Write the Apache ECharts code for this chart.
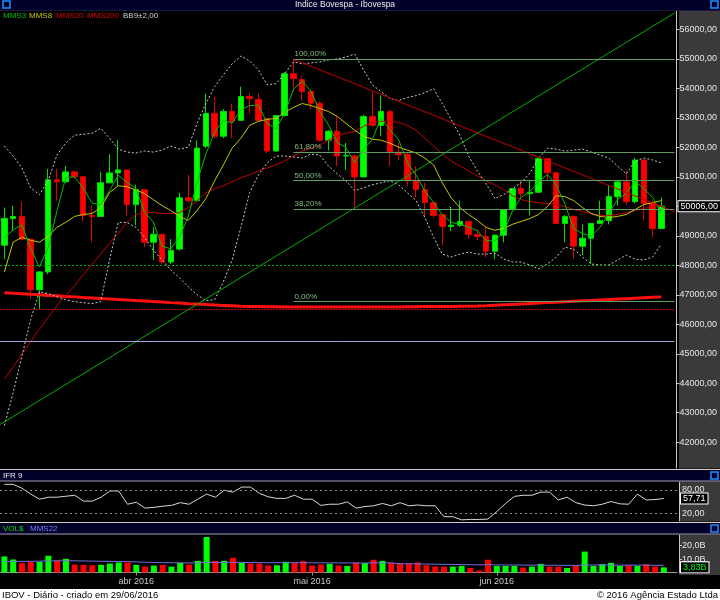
<!DOCTYPE html>
<html>
<head>
<meta charset="utf-8">
<title>Indice Bovespa - Ibovespa</title>
<script src="https://cdn.jsdelivr.net/npm/echarts@6/dist/echarts.min.js"></script>
<style>
html, body { margin: 0; padding: 0; background: #000; }
#chart { width: 720px; height: 600px; }
</style>
</head>
<body>
<div id="chart"></div>
<script>
// pregões de 10/03/2016 a 28/06/2016
var dates = ['10/03','11/03','14/03','15/03','16/03','17/03','18/03','21/03','22/03','23/03','24/03','28/03','29/03','30/03','31/03',
  '01/04','04/04','05/04','06/04','07/04','08/04','11/04','12/04','13/04','14/04','15/04','18/04','19/04','20/04','22/04','25/04','26/04','27/04','28/04','29/04',
  '02/05','03/05','04/05','05/05','06/05','09/05','10/05','11/05','12/05','13/05','16/05','17/05','18/05','19/05','20/05','23/05','24/05','25/05','27/05','30/05','31/05',
  '01/06','02/06','03/06','06/06','07/06','08/06','09/06','10/06','13/06','14/06','15/06','16/06','17/06','20/06','21/06','22/06','23/06','24/06','27/06','28/06'];
var monthNames = {'04': 'abr 2016', '05': 'mai 2016', '06': 'jun 2016'};

var opens = [48683,49590,49658,48885,47171,47776,50901,50834,51170,51002,
  49691,49658,50800,51136,51237,50061,50565,48784,49053,48112,
  48550,50290,50195,52043,53152,52379,53219,52917,53723,53622,
  52980,51880,53080,54500,54300,53900,53500,52245,52550,51710,
  51710,51000,53050,52750,53220,51840,51770,50870,50570,50130,
  49720,49320,49360,49490,49050,48980,48480,49020,49890,50600,
  50430,50480,51620,51140,49420,49660,48650,48920,49420,49520,
  50330,50830,50160,51570,50130,49250];
var highs = [49960,50027,50162,48900,47800,51270,51270,51371,51200,51010,
  50027,51170,51774,52245,51240,50733,50570,49288,49060,48890,
  50460,51070,52245,53824,53723,53300,53488,54059,53824,53824,
  53000,53100,54550,54990,54400,53950,53550,52580,53050,52150,
  51750,53100,53890,53760,53250,52150,51800,51370,50800,50130,
  49730,49990,50200,49500,49220,49290,49050,49900,50620,50900,
  50900,51650,51640,51150,49700,49700,49390,49420,50190,50730,
  50870,51200,51650,51600,50200,50300];
var lows = [48213,49187,48850,46870,46530,47700,50195,50800,50950,49490,
  48784,49640,50780,50700,49691,49355,48616,48179,48050,48050,
  48500,50130,50150,51980,52312,52312,52312,52900,53152,52900,
  51800,51850,53050,53890,53590,53300,52200,51900,51370,51240,
  49960,50980,52700,52380,51370,51570,50700,50300,49620,49620,
  48680,49160,49300,48890,48850,48280,48210,48780,49860,50300,
  49690,50450,50900,49400,48780,48210,48350,48050,49420,49390,
  50030,50060,50100,49520,48950,49250];
var closes = [49590,49658,48885,47171,47776,50901,50834,51170,51002,49691,
  49658,50800,51136,51237,50061,50565,48784,49053,48112,48510,
  50290,50190,51976,53152,52379,53219,52883,53723,53656,52917,
  51880,53080,54500,54330,53900,53500,52245,52550,51710,51730,
  51000,53050,52750,53220,51840,51750,50870,50570,50130,49690,
  49320,49360,49490,49050,48980,48480,49020,49890,50600,50430,
  50480,51620,51140,49420,49660,48650,48920,49420,49520,50330,
  50830,50160,51570,50090,49250,50006];

var mms3 = [48950,49200,49380,48571,47944,48616,49837,50968,51002,50621,
  50117,50050,50531,51058,50811,50621,49803,49467,48650,48558,
  48971,49663,50819,51773,52502,52917,52827,53275,53421,53432,
  52818,52626,53153,53970,54243,53910,53215,52765,52168,51997,
  51480,51927,52267,53007,52603,52270,51487,51063,50523,50130,
  49713,49457,49390,49300,49173,48837,48827,49130,49837,50307,
  50503,50843,51080,50727,50073,49243,49077,48997,49287,49757,
  50227,50440,50853,50607,50303,49782];
var mms8 = [47776,48784,48952,48851,48784,48986,49288,49456,49658,49725,
  49758,49960,50464,50699,50666,50565,50430,50229,50027,49859,
  49658,49523,49859,50262,50867,51405,51976,52312,52749,52883,
  52950,52984,53186,53354,53488,53421,53320,53219,53051,52816,
  52581,52379,52278,52245,52144,52010,51909,51808,51640,51405,
  50800,50296,49960,49725,49523,49288,49187,49254,49389,49490,
  49590,49725,49994,50363,50330,50195,49960,49758,49658,49624,
  49658,49725,49893,50061,50128,50195];
var mms20 = [44147,44550,44987,45424,45827,46230,46634,46970,47306,47675,
  48045,48381,48750,49086,49456,49725,49792,49792,49758,49758,
  49792,49960,50195,50464,50598,50699,50834,50968,51069,51203,
  51304,51405,51539,51707,51875,51976,52077,52245,52379,52480,
  52547,52715,52850,52883,52883,52850,52749,52581,52312,52043,
  51774,51539,51371,51203,51035,50867,50733,50565,50363,50229,
  50162,50128,50094,50061,49994,49893,49826,49758,49691,49691,
  49725,49792,49859,49926,49994,50027];
var mms200 = [47070,47050,47035,47015,47000,46980,46965,46945,46930,46910,
  46895,46875,46860,46840,46825,46805,46790,46770,46755,46735,
  46720,46700,46685,46670,46655,46640,46625,46610,46600,46600,
  46595,46595,46590,46590,46590,46585,46585,46585,46585,46585,
  46585,46585,46590,46590,46590,46590,46595,46595,46600,46600,
  46600,46605,46610,46615,46620,46630,46645,46660,46675,46690,
  46705,46720,46735,46750,46765,46780,46795,46810,46825,46840,
  46855,46870,46885,46900,46915,46930];
var bbUpper = [52043,51707,51304,50632,50397,50867,51741,52144,52413,52446,
  52480,52648,52312,51942,51842,51808,51875,51842,51909,52043,
  51942,52010,52816,53488,54059,54462,54832,55101,54933,54630,
  54126,54160,54496,54899,54832,54866,54899,54966,55000,55067,
  55168,54630,54126,53891,53656,53589,53690,53757,53858,53992,
  53488,52950,52413,51707,51203,50766,50262,50397,50598,50800,
  51136,51640,51976,51942,51875,51909,51942,51842,51741,51640,
  51371,51102,51539,51640,51573,51472];
var bbLower = [42568,43677,44920,46163,47104,47037,46936,46835,46768,46734,
  46701,46768,48179,49456,49456,49288,48952,48515,48179,47843,
  47574,47272,47003,46802,46835,47440,48179,49288,50464,51069,
  51472,51707,51707,51674,51640,51774,51741,51371,51102,50867,
  50531,50632,50733,50800,50867,50733,50464,50195,49624,48952,
  48381,48280,48381,48448,48381,48381,48414,48213,48112,48112,
  48011,47877,48045,48280,48616,48549,48280,48045,48011,48011,
  48179,48347,48213,48179,48280,48717];

// Fibonacci e linhas de tendência (x = índice do pregão)
var fibStart = 33;
var fibLevels = [54990, 51850, 50880, 49910, 46770];
var fibLabels = ['100,00%', '61,80%', '50,00%', '38,20%', '0,00%'];
var greenTrend = [[-0.5, 42600], [76.5, 56560]];
var redTrend = [[33, 54990], [76.5, 49820]];
var supportLevel = 48000;
var redLevel = 46516;
var blueLevel = 45420;

var ifr9 = [94,94,84,69,56,61,61,63.5,66,51,
  51,61,77,77,43,48,33,35,38,40,
  47,43,56,69,61,79,74,87,87,71,
  62,58,58,66,56,56,40,43,43,49,
  33,37,39,45,39,47,39,41,39,39,
  11,11,3,4,4,5,24,45,63,66,
  66,74,74,54,61,47,41,39,43,50,
  44,43,69,54,55,57.71];
var ifrBands = [80, 20];

// volume financeiro em bilhões
var volume = [12.0,9.7,7.0,8.0,8.0,12.5,9.0,10.2,5.9,5.7,
  5.4,5.7,6.7,7.5,7.5,5.7,4.4,5.2,5.7,4.4,
  7.2,5.9,8.7,26.5,8.7,8.7,11.0,7.2,6.7,6.7,
  5.2,5.4,8.0,7.2,8.5,5.2,5.9,6.5,5.2,4.9,
  7.5,7.0,9.5,8.7,7.2,6.7,6.7,7.5,5.4,4.4,
  4.4,4.4,4.9,3.4,1.5,9.5,4.9,4.9,4.9,3.7,
  4.4,6.5,4.4,4.4,3.4,5.2,15.6,4.9,6.2,7.2,
  4.9,5.4,4.9,6.2,4.4,3.83];
var volMms22 = [8.2,8.3,8.3,8.4,8.5,8.6,8.7,8.8,8.7,8.6,
  8.5,8.4,8.3,8.2,8.1,7.9,7.7,7.5,7.4,7.3,
  7.2,7.1,7.1,7.6,7.5,7.5,7.6,7.5,7.4,7.4,
  7.3,7.3,7.3,7.3,7.3,7.2,7.2,7.2,7.2,7.1,
  7.1,7.1,7.2,7.2,7.2,6.5,6.5,6.4,6.3,6.2,
  6.1,6.0,5.9,5.8,5.7,5.8,5.7,5.6,5.6,5.5,
  5.5,5.5,5.4,5.4,5.3,5.3,5.6,5.6,5.6,5.6,
  5.5,5.5,5.5,5.5,5.4,5.4];

var FONT = '"Liberation Sans", Arial, sans-serif';
var GREEN = '#00ff00', RED = '#ff0000';
var cats = dates.concat(['']);

function isMonthStart(i) {
  return i > 0 && i < dates.length && dates[i].slice(3) !== dates[i - 1].slice(3);
}
function br(v, d) { return v.toFixed(d).replace('.', ','); }

var myChart = echarts.init(document.getElementById('chart'));

function catAxis(grid, showLabels) {
  return {
    type: 'category', gridIndex: grid, data: cats, boundaryGap: true,
    axisLine: { show: showLabels, onZero: false, lineStyle: { color: '#9a9a9a' } },
    axisTick: { show: showLabels, alignWithLabel: true, length: 3, interval: function (i) { return isMonthStart(i); }, lineStyle: { color: '#9a9a9a' } },
    axisLabel: {
      show: showLabels, color: '#c8c8c8', fontSize: 9, fontFamily: FONT, margin: 5,
      interval: function (i) { return isMonthStart(i); },
      formatter: function (v, i) { return isMonthStart(i) ? monthNames[v.slice(3)] : ''; }
    },
    splitLine: { show: false }
  };
}
function rightAxis(grid, min, max, interval, fmt, tick) {
  return {
    type: 'value', gridIndex: grid, position: 'right', offset: 2,
    min: min, max: max, interval: interval,
    axisLine: { show: true, onZero: false, lineStyle: { color: '#c8c8c8' } },
    axisTick: { show: tick, length: 3, lineStyle: { color: '#c8c8c8' } },
    axisLabel: { color: '#e6e6e6', fontSize: 9, fontFamily: FONT, margin: 3, formatter: fmt, showMinLabel: false, showMaxLabel: false },
    splitLine: { show: false }
  };
}
function maLine(name, data, color, width, dashed) {
  return {
    name: name, type: 'line', xAxisIndex: 0, yAxisIndex: 0, data: data,
    symbol: 'none', z: 4, silent: true,
    lineStyle: { color: color, width: width, type: dashed ? [2, 2] : 'solid' }
  };
}
function valueBox(v, text, color) {
  return {
    yAxis: v, lineStyle: { color: 'rgba(0,0,0,0)', width: 0 },
    label: {
      show: true, position: 'end', distance: 4, formatter: text,
      color: color, backgroundColor: '#000', borderColor: '#ffffff', borderWidth: 1,
      padding: [1, 2, 0, 2], fontSize: 9, fontFamily: FONT
    }
  };
}
function txt(x, y, s, color, size, align) {
  return { type: 'text', z: 101, style: { text: s, x: x, y: y, fill: color, font: size + 'px ' + FONT, textAlign: align || 'left', textVerticalAlign: 'middle', verticalAlign: 'middle' } };
}
function rect(x, y, w, h, fill, z) {
  return { type: 'rect', z: z, shape: { x: x, y: y, width: w, height: h }, style: { fill: fill } };
}
function hline(y, color) {
  return { type: 'line', z: 101, shape: { x1: 0, y1: y, x2: 720, y2: y }, style: { stroke: color, lineWidth: 1 } };
}
function icon(x, y) {
  return { type: 'rect', z: 102, shape: { x: x, y: y, width: 7, height: 7 }, style: { fill: 'none', stroke: '#1e90ff', lineWidth: 1.5 } };
}

var option = {
  animation: false,
  backgroundColor: '#000',
  grid: [
    { left: 0, top: -4.5, width: 677, height: 476.2 },
    { left: 0, top: 482, width: 677, height: 39 },
    { left: 0, top: 535, width: 677, height: 37.5 }
  ],
  xAxis: [
    catAxis(0, false),
    catAxis(1, false),
    catAxis(2, true),
    { type: 'value', gridIndex: 0, min: -0.5, max: 76.5, show: false }
  ],
  yAxis: [
    rightAxis(0, 41000, 57000, 1000, function (v) { return br(v, 2); }, true),
    rightAxis(1, 0, 100, 20, function (v) { return ifrBands.indexOf(v) >= 0 ? br(v, 2) : ''; }, false),
    rightAxis(2, 0, 28, 10, function (v) { return v ? br(v, 1) + 'B' : ''; }, true)
  ],
  series: [
    {
      type: 'candlestick', xAxisIndex: 0, yAxisIndex: 0, barWidth: 6, z: 3,
      data: dates.map(function (d, i) { return [opens[i], closes[i], lows[i], highs[i]]; }),
      itemStyle: { color: GREEN, color0: RED, borderColor: '#00e000', borderColor0: '#e00000', borderWidth: 1 },
      markLine: {
        symbol: 'none', silent: true, animation: false,
        label: { show: false },
        data: [
          { yAxis: supportLevel, lineStyle: { color: '#00b000', type: [2, 2], width: 1 } },
          { yAxis: redLevel, lineStyle: { color: '#c00000', type: [2, 1], width: 1 } },
          { yAxis: blueLevel, lineStyle: { color: '#a0a0e0', type: 'solid', width: 1 } }
        ]
      }
    },
    maLine('MMS200', mms200, '#ff1010', 3),
    maLine('MMS20', mms20, '#c00000', 1),
    maLine('BB sup', bbUpper, '#c8c8c8', 1, true),
    maLine('BB inf', bbLower, '#c8c8c8', 1, true),
    maLine('MMS8', mms8, '#c8c800', 1),
    maLine('MMS3', mms3, '#00c000', 1),
    {
      type: 'line', xAxisIndex: 3, yAxisIndex: 0, data: greenTrend, symbol: 'none', z: 4, silent: true,
      lineStyle: { color: '#00b000', width: 1 }
    },
    {
      type: 'line', xAxisIndex: 3, yAxisIndex: 0, data: redTrend, symbol: 'none', z: 4, silent: true,
      lineStyle: { color: '#c00000', width: 1 },
      markLine: {
        symbol: 'none', silent: true, animation: false,
        lineStyle: { color: '#5f9f5f', type: 'solid', width: 1 },
        label: { position: 'insideStartTop', distance: 1, color: '#7fbf7f', fontSize: 8, fontFamily: FONT },
        data: fibLevels.map(function (v, k) {
          return [{ coord: [fibStart, v], label: { formatter: fibLabels[k] } }, { coord: [76.5, v] }];
        })
      }
    },
    // caixa do último preço
    {
      type: 'line', xAxisIndex: 0, yAxisIndex: 0, data: [], z: 6, silent: true,
      markLine: { symbol: 'none', silent: true, animation: false,
        data: [valueBox(closes[closes.length - 1], br(closes[closes.length - 1], 2), '#ffffff')] }
    },
    {
      type: 'line', xAxisIndex: 1, yAxisIndex: 1, data: ifr9, symbol: 'none', silent: true,
      lineStyle: { color: '#d8d8d8', width: 1 },
      markLine: {
        symbol: 'none', silent: true, animation: false,
        label: { show: false },
        data: ifrBands.map(function (v) { return { yAxis: v, lineStyle: { color: '#8a8a8a', type: [2, 3], width: 1 } }; })
      }
    },
    {
      type: 'line', xAxisIndex: 1, yAxisIndex: 1, data: [], z: 6, silent: true,
      markLine: { symbol: 'none', silent: true, animation: false,
        data: [valueBox(ifr9[ifr9.length - 1], br(ifr9[ifr9.length - 1], 2), '#ffffff')] }
    },
    {
      type: 'bar', xAxisIndex: 2, yAxisIndex: 2, data: volume, barWidth: 6, silent: true,
      itemStyle: { color: function (p) { return closes[p.dataIndex] >= opens[p.dataIndex] ? GREEN : RED; } }
    },
    {
      type: 'line', xAxisIndex: 2, yAxisIndex: 2, data: volMms22, symbol: 'none', silent: true, z: 4,
      lineStyle: { color: '#7070e0', width: 1 }
    },
    {
      type: 'line', xAxisIndex: 2, yAxisIndex: 2, data: [], z: 6, silent: true,
      markLine: { symbol: 'none', silent: true, animation: false,
        data: [valueBox(volume[volume.length - 1], br(volume[volume.length - 1], 2) + 'B', '#00ff00')] }
    }
  ],
  graphic: { elements: [
    rect(679, 10, 41, 565, '#3a3a3a', -10),
    // barra de título
    rect(0, 0, 720, 10, '#00002a', 100),
    hline(10.5, '#1a1a40'),
    txt(345, 5, 'Indice Bovespa - Ibovespa', '#ececec', 8.5, 'center'),
    icon(3, 1), icon(711, 1),
    // legenda
    txt(3, 15.5, 'MMS3', '#00c000', 8),
    txt(29, 15.5, 'MMS8', '#c8c800', 8),
    txt(56, 15.5, 'MMS20', '#e00000', 8),
    txt(87, 15.5, 'MMS200', '#e00000', 8),
    txt(123, 15.5, 'BB9\u00b12,00', '#d0d0d0', 8),
    // cabeçalho IFR
    rect(0, 468.5, 720, 13, '#000', 100),
    hline(469.5, '#d0d0d0'),
    rect(0, 470.5, 720, 10, '#00002a', 100),
    hline(481, '#a0a0c0'),
    txt(3, 475.5, 'IFR 9', '#ececec', 8),
    icon(711, 472),
    // cabeçalho VOL
    rect(0, 521.5, 720, 13, '#000', 100),
    hline(522.5, '#d0d0d0'),
    rect(0, 523.5, 720, 10, '#00002a', 100),
    hline(534, '#a0a0c0'),
    txt(3, 528.5, 'VOL$', '#00e000', 8),
    txt(30, 528.5, 'MMS22', '#8080ff', 8),
    icon(711, 525),
    // rodapé
    rect(0, 589, 720, 11, '#ffffff', 100),
    txt(2, 595, 'IBOV - Di\u00e1rio - criado em 29/06/2016', '#000', 9.5),
    txt(718, 595, '\u00a9 2016 Ag\u00eancia Estado Ltda', '#000', 9.5, 'right')
  ] }
};
myChart.setOption(option);
</script>
</body>
</html>
